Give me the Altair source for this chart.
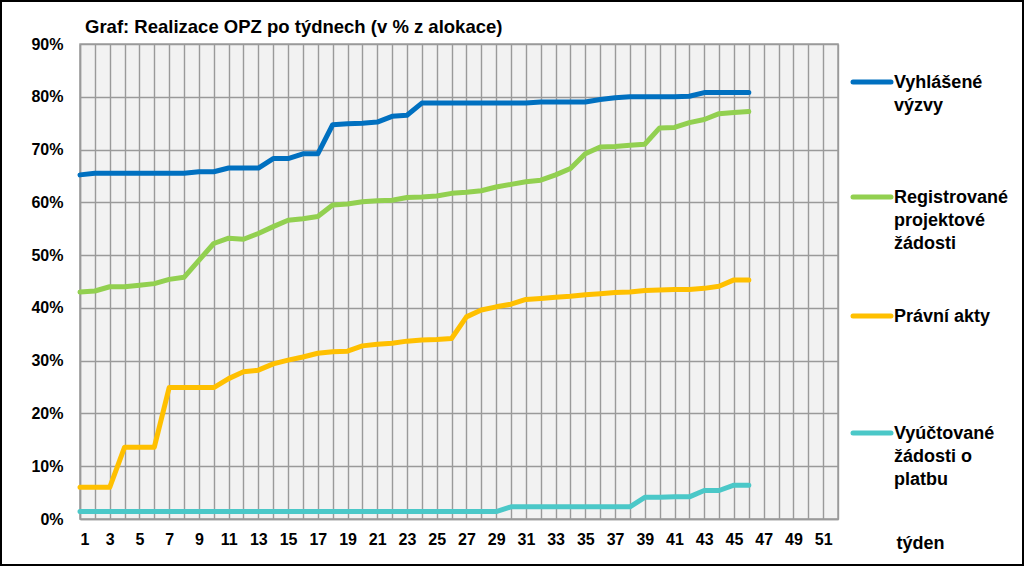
import altair as alt
import pandas as pd

# ---- data (values in % of allocation) ----
weeks = list(range(1, 47))

series_names = [
    "Vyhlášené výzvy",
    "Registrované projektové žádosti",
    "Právní akty",
    "Vyúčtované žádosti o platbu",
]
legend_labels = [
    "Vyhlášené\nvýzvy",
    "Registrované\nprojektové\nžádosti",
    "Právní akty",
    "Vyúčtované\nžádosti o\nplatbu",
]
colors = ["#0070C0", "#92D050", "#FFC000", "#4BC8C8"]

vyzvy = [65.2, 65.5, 65.5, 65.5, 65.5, 65.5, 65.5, 65.5, 65.8, 65.8,
         66.5, 66.5, 66.5, 68.3, 68.3, 69.2, 69.2, 74.7, 74.9, 75.0,
         75.2, 76.3, 76.5, 78.8, 78.8, 78.8, 78.8, 78.8, 78.8, 78.8,
         78.8, 79.0, 79.0, 79.0, 79.0, 79.5, 79.8, 80.0, 80.0, 80.0,
         80.0, 80.1, 80.8, 80.8, 80.8, 80.8]
registrovane = [43.0, 43.2, 44.0, 44.0, 44.3, 44.6, 45.4, 45.8, 49.0, 52.2,
                53.2, 53.0, 54.1, 55.4, 56.6, 56.9, 57.3, 59.5, 59.7, 60.1,
                60.3, 60.4, 60.9, 61.0, 61.2, 61.7, 61.9, 62.2, 62.9, 63.4,
                63.9, 64.2, 65.2, 66.4, 69.2, 70.5, 70.6, 70.8, 71.0, 74.1,
                74.2, 75.1, 75.7, 76.8, 77.0, 77.2]
pravni = [6.0, 6.0, 6.0, 13.6, 13.6, 13.6, 24.9, 24.9, 24.9, 24.9,
          26.6, 27.9, 28.2, 29.4, 30.1, 30.7, 31.4, 31.7, 31.8, 32.8,
          33.1, 33.3, 33.7, 33.9, 34.0, 34.2, 38.3, 39.6, 40.2, 40.7,
          41.6, 41.8, 42.0, 42.2, 42.5, 42.7, 42.9, 43.0, 43.3, 43.4,
          43.5, 43.5, 43.7, 44.1, 45.3, 45.3]
vyuctovane = [1.4, 1.4, 1.4, 1.4, 1.4, 1.4, 1.4, 1.4, 1.4, 1.4,
              1.4, 1.4, 1.4, 1.4, 1.4, 1.4, 1.4, 1.4, 1.4, 1.4,
              1.4, 1.4, 1.4, 1.4, 1.4, 1.4, 1.4, 1.4, 1.4, 2.3,
              2.3, 2.3, 2.3, 2.3, 2.3, 2.3, 2.3, 2.3, 4.1, 4.1,
              4.2, 4.2, 5.4, 5.4, 6.4, 6.4]

x_ticks = list(range(1, 53))
y_ticks = [0, 10, 20, 30, 40, 50, 60, 70, 80, 90]

title_text = "Graf: Realizace OPZ po týdnech (v % z alokace)"
x_title = "týden"

FONT = "Liberation Sans"

rows = []
for name, vals in zip(series_names, [vyzvy, registrovane, pravni, vyuctovane]):
    for w, v in zip(weeks, vals):
        rows.append({"week": w, "value": v, "series": name})
df = pd.DataFrame(rows)

W, H = 758, 475

lines = alt.Chart(df).mark_line(strokeWidth=5, strokeCap="round", strokeJoin="round").encode(
    x=alt.X("week:Q",
            scale=alt.Scale(domain=[1, 52], nice=False, zero=False),
            axis=alt.Axis(values=x_ticks, ticks=False, labelOverlap=False,
                          labelExpr="datum.value % 2 == 1 ? datum.label : ''",
                          labelBaseline="middle", labelPadding=20,
                          title=x_title, titleX=816, titleY=24,
                          titleAlign="left", titleBaseline="middle",
                          titleFontSize=18, titleFont=FONT, titleFontWeight="bold")),
    y=alt.Y("value:Q",
            scale=alt.Scale(domain=[0, 90], nice=False),
            axis=alt.Axis(values=y_ticks, ticks=False, labelPadding=17,
                          labelExpr="datum.value + '%'", title=None)),
    color=alt.Color("series:N", scale=alt.Scale(domain=series_names, range=colors), legend=None),
    detail="series:N",
)

layers = [lines]

# custom legend (layout positions in pixels)
legend_y = [38, 153, 272, 389]
for lab, col, ly in zip(legend_labels, colors, legend_y):
    one = pd.DataFrame({"label": [lab]})
    layers.append(
        alt.Chart(one).mark_rule(color=col, strokeWidth=5, strokeCap="round").encode(
            x=alt.value(773), x2=alt.value(811), y=alt.value(ly))
    )
    layers.append(
        alt.Chart(one).mark_text(align="left", baseline="alphabetic", lineBreak="\n",
                                 lineHeight=23, font=FONT, fontSize=18,
                                 fontWeight="bold", color="black").encode(
            text="label:N", x=alt.value(814), y=alt.value(ly + 6))
    )

# title
title_df = pd.DataFrame({"t": [title_text]})
layers.append(
    alt.Chart(title_df).mark_text(align="left", baseline="middle", font=FONT, fontSize=18.5,
                                  fontWeight="bold", color="black").encode(
        text="t:N", x=alt.value(5), y=alt.value(-17))
)

# outer frame
layers.append(
    alt.Chart(title_df).mark_rect(fillOpacity=0, stroke="black", strokeWidth=2, clip=False).encode(
        x=alt.value(-79), x2=alt.value(943), y=alt.value(-43), y2=alt.value(521))
)

chart = alt.layer(*layers).properties(
    width=W, height=H,
    autosize=alt.AutoSizeParams(type="none"),
    padding={"left": 80, "top": 44, "right": 186, "bottom": 47},
    background="white",
).configure_view(
    fill="#F2F2F2", stroke="#A0A0A0", strokeWidth=1.5,
).configure_axis(
    gridColor="#9A9A9A", gridWidth=1.4, domainColor="#9A9A9A", domainWidth=1.5,
    labelFont=FONT, labelFontSize=16, labelFontWeight="bold", labelColor="black",
)

chart.save("out.html", embed_options={"renderer": "svg", "actions": False})
